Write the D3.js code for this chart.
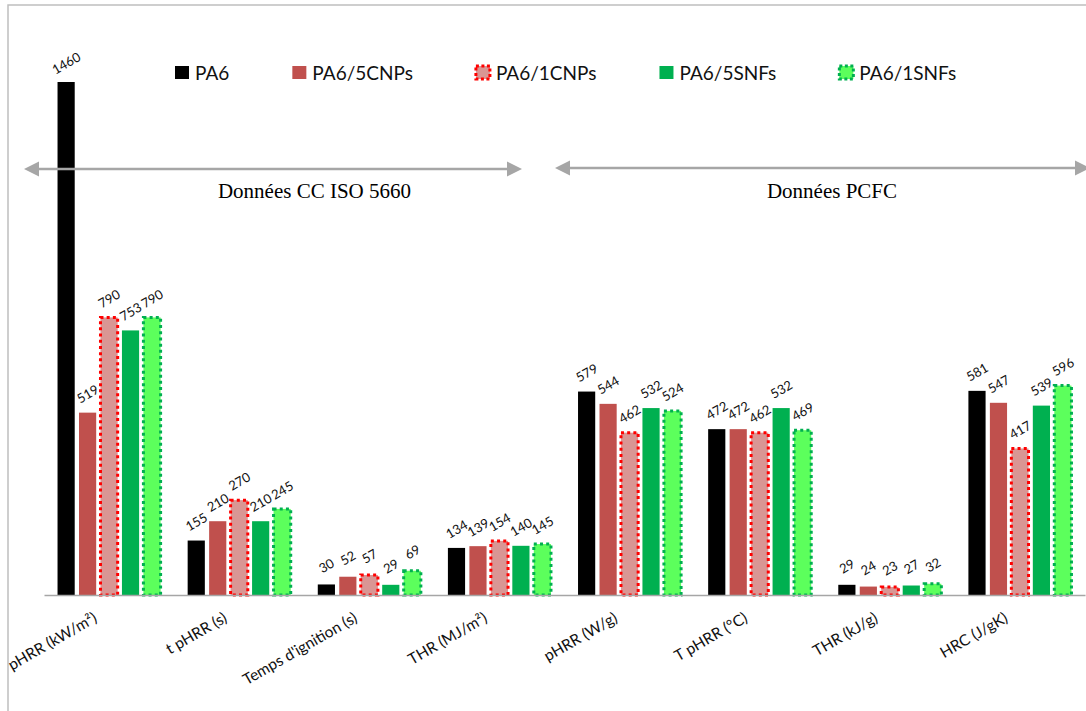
<!DOCTYPE html>
<html><head><meta charset="utf-8">
<script src="https://cdn.jsdelivr.net/npm/d3@7"></script>
<style>body{margin:0;background:#fff}</style>
</head><body><svg id="c" width="1086" height="711"></svg>
<script>
const categories = ["pHRR (kW/m²)", "t pHRR (s)", "Temps d'ignition (s)", "THR (MJ/m²)", "pHRR (W/g)", "T pHRR (°C)", "THR (kJ/g)", "HRC (J/gK)"];
const seriesNames = ["PA6", "PA6/5CNPs", "PA6/1CNPs", "PA6/5SNFs", "PA6/1SNFs"];
const pa6   = [1460, 155, 30, 134, 579, 472, 29, 581];
const cnp5  = [519, 210, 52, 139, 544, 472, 24, 547];
const cnp1  = [790, 270, 57, 154, 462, 462, 23, 417];
const snf5  = [753, 210, 29, 140, 532, 532, 27, 539];
const snf1  = [790, 245, 69, 145, 524, 469, 32, 596];
const groupTitles = ["Données CC ISO 5660", "Données PCFC"];

const seriesValues = [pa6, cnp5, cnp1, snf5, snf1];
const styles = [
  {fill: "#000000", stroke: "none"},
  {fill: "#C0504D", stroke: "none"},
  {fill: "#D99694", stroke: "#FF0000", dash: "3,3.2"},
  {fill: "#00B050", stroke: "none"},
  {fill: "#5CFF5C", stroke: "#00B050", dash: "3,3.2"}
];

const svg = d3.select("#c");
const baseY = 595;
const y = d3.scaleLinear().domain([0, 1460]).range([baseY, 82]);
const x0 = d3.scaleBand().domain(categories).range([44, 1085]).paddingInner(0.208).paddingOuter(0.104);
const x1 = d3.scaleBand().domain(seriesNames).range([0, x0.bandwidth()]).paddingInner(0.2);

// frame
svg.append("path").attr("d", "M8,711 L8,5 L1086,5").attr("fill", "none").attr("stroke", "#BFBFBF").attr("stroke-width", 1.5);

// bars
const rows = [];
seriesNames.forEach((s, si) => categories.forEach((c, ci) => rows.push({s, si, c, v: seriesValues[si][ci]})));

svg.append("g").selectAll("rect").data(rows).join("rect")
  .attr("x", d => x0(d.c) + x1(d.s))
  .attr("y", d => y(d.v))
  .attr("width", x1.bandwidth())
  .attr("height", d => baseY - y(d.v))
  .attr("fill", d => styles[d.si].fill)
  .attr("stroke", d => styles[d.si].stroke)
  .attr("stroke-width", d => styles[d.si].dash ? 3 : 0)
  .attr("stroke-dasharray", d => styles[d.si].dash || null);

// axis baseline
const xAxis = d3.axisBottom(x0).tickSize(0).tickFormat("");
const ax = svg.append("g").attr("transform", `translate(0,${baseY})`).call(xAxis);
ax.select(".domain").attr("stroke", "#A6A6A6").attr("stroke-width", 1.5);

// category labels
svg.append("g").selectAll("text").data(categories).join("text")
  .attr("transform", d => `translate(${x0(d) + x0.bandwidth() / 2 - 11},621) rotate(-30)`)
  .attr("text-anchor", "end")
  .attr("font-family", "Lato, 'Open Sans', sans-serif")
  .attr("font-size", 15.5)
  .attr("fill", "#111")
  .text(d => d);

// value labels
svg.append("g").selectAll("text").data(rows).join("text")
  .attr("transform", d => `translate(${x0(d.c) + x1(d.s) + x1.bandwidth() / 2},${y(d.v) - 19}) rotate(-30)`)
  .attr("text-anchor", "middle")
  .attr("dominant-baseline", "central")
  .attr("font-family", "Lato, 'Open Sans', sans-serif")
  .attr("font-size", 13)
  .attr("fill", "#111")
  .text(d => d.v);

// legend
const leg = svg.append("g");
let lx = 175;
seriesNames.forEach((s, i) => {
  const st = styles[i];
  leg.append("rect").attr("x", lx).attr("y", 66).attr("width", 14).attr("height", 13)
    .attr("fill", st.fill).attr("stroke", st.stroke)
    .attr("stroke-width", st.dash ? 3 : 0).attr("stroke-dasharray", st.dash ? "3,2.5" : null);
  const t = leg.append("text").attr("x", lx + 20).attr("y", 80)
    .attr("font-family", "Lato, 'Open Sans', sans-serif").attr("font-size", 19).attr("fill", "#111").text(s);
  lx = lx + 20 + t.node().getComputedTextLength() + 63;
});

// double arrows
function dblArrow(xa, xb, yy) {
  const g = svg.append("g");
  g.append("line").attr("x1", xa + 12).attr("x2", xb - 12).attr("y1", yy).attr("y2", yy)
    .attr("stroke", "#A6A6A6").attr("stroke-width", 2.5);
  g.append("path").attr("d", `M${xa},${yy} L${xa + 15},${yy - 7.5} L${xa + 15},${yy + 7.5} Z`).attr("fill", "#A6A6A6");
  g.append("path").attr("d", `M${xb},${yy} L${xb - 15},${yy - 7.5} L${xb - 15},${yy + 7.5} Z`).attr("fill", "#A6A6A6");
}
dblArrow(24, 522, 169);
dblArrow(555, 1090, 168);

svg.append("text").attr("x", 314.5).attr("y", 197.5).attr("text-anchor", "middle")
  .attr("font-family", "'Liberation Serif', 'Times New Roman', serif").attr("font-size", 21).attr("fill", "#000").text(groupTitles[0]);
svg.append("text").attr("x", 832).attr("y", 197.5).attr("text-anchor", "middle")
  .attr("font-family", "'Liberation Serif', 'Times New Roman', serif").attr("font-size", 21).attr("fill", "#000").text(groupTitles[1]);
</script></body></html>
